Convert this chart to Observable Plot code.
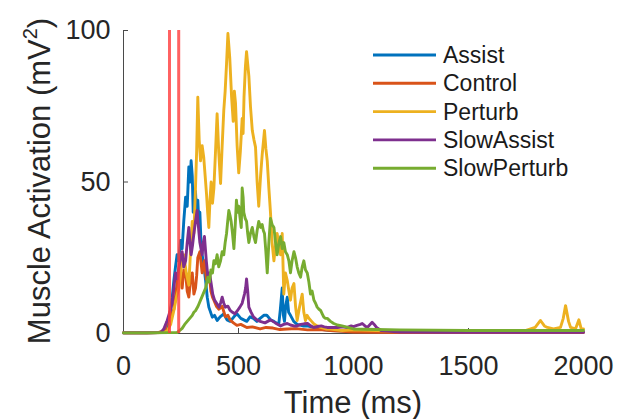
<!DOCTYPE html>
<html><head><meta charset="utf-8">
<script src="https://cdn.jsdelivr.net/npm/d3@7"></script>
<script src="https://cdn.jsdelivr.net/npm/@observablehq/plot@0.6"></script>
<style>body{margin:0;background:#fff} svg{display:block}</style>
</head><body><div id="chart"></div>
<script>
const seriesNames = ["Assist", "Control", "Perturb", "SlowAssist", "SlowPerturb"];
const seriesColors = ["#0072BD", "#D95319", "#EDB120", "#7E2F8E", "#77AC30"];
const xTicks = [0, 500, 1000, 1500, 2000];
const yTicks = [0, 50, 100];
const stimulusTimes = [200, 240];
const xLabel = "Time (ms)";
const yLabel = "Muscle Activation (mV²)";

const assistT = [0,100,150,175,190,204,212,219,226,233,240,248,255,262,270,277,284,290,294,299,303,308,313,318,323,328,332,337,342,350,357,364,371,386,396,407,420,436,450,464,480,493,510,536,550,565,580,594,610,623,640,654,665,675,682,690,695,700,705,712,718,726,740,755,780,799,850,900,1000,1200,1500,1800,2000];
const assistV = [0.2,0.2,0.3,0.5,2,7.6,12,17.5,22,26,24,30.7,28,37,45,42,55,50,57,52,40,46,47,38,44,36,40,30,26,22,17.5,12,8.7,5.4,6,4.3,5.5,6.5,4.5,4,5.5,6.5,5,4,5.5,5,4,5,6,6,4.5,4,3.5,3,8,15,6,4,9,12,7,6,4,3,2.5,2.5,1.5,1,0.7,0.5,0.5,0.4,0.4];

const controlT = [0,100,150,180,190,205,219,233,245,255,262,270,277,284,292,299,306,313,318,323,332,342,352,360,367,374,380,387,393,404,415,429,443,454,464,478,493,510,536,560,594,620,650,680,712,750,800,850,900,1000,1200,1500,2000];
const controlV = [0.2,0.2,0.3,1,4,6,8,16.5,23,15,21,20,14,12,18,20,13,15,19,25,27,20,24,18,17,19,14,12,11,9,8,9,5.5,6,4.4,3.5,2.7,3,2,2.2,1.5,2,1.8,1.3,1.5,1.6,1.2,1.3,1,0.5,0.3,0.3,0.3];

const perturbT = [0,100,170,190,205,219,230,241,252,262,273,284,292,299,306,313,318,323,329,335,342,349,355,361,366,371,376,381,387,393,400,407,414,422,429,436,442,448,454,458,462,470,477,482,487,494,501,508,516,520,524,530,535,540,545,552,560,567,574,581,588,596,603,608,613,619,625,632,639,646,654,661,668,676,683,690,697,704,712,719,726,733,741,748,755,766,777,784,791,798,806,818,830,843,857,880,900,950,1000,1100,1200,1400,1600,1700,1750,1790,1813,1830,1843,1870,1900,1912,1922,1935,1944,1965,1980,1990,2000];
const perturbV = [0.2,0.2,0.3,0.8,3,7.6,12,15,22,26,20,16,28,37,33,48,60,78,64,57,62,58,52,46,40,35,44,50,43,48,60,72.5,60,49.5,62,73.6,80,89,99,95,91,78,70,80,76,62,53,60,71,66,78,88,93,89,85,75,67,64,61.5,50,42,52,59,63,67,61,57,48,40,30,24,29,33,29,26,33,13,20,17.5,14,11,15,16.5,9,4.3,9,13,7,4.3,6,5,4,3,2.5,2,1.5,1.5,1,1.2,1,0.8,0.8,0.8,1,1,2,4.3,2.5,2,1.5,2,5,9.2,4,2,1.5,4.5,1.5,1.5];

const slowAssistT = [0,100,162,175,190,201,212,219,226,234,241,248,255,262,270,277,284,289,294,300,306,313,320,326,332,337,342,347,352,360,367,374,381,388,396,405,415,422,429,436,443,454,464,474,484,495,506,516,526,531,535,540,545,555,565,580,594,615,639,660,683,697,712,726,740,755,770,785,800,814,828,845,860,873,886,900,930,950,973,990,1000,1015,1030,1038,1050,1060,1070,1081,1090,1100,1120,1150,1200,1400,1600,1800,2000];
const slowAssistV = [0.2,0.2,0.3,1.5,4.3,7,10,15,20,18,22,25,27,22,24,30,35,30,26,29,33,37,40.6,35,30,28,26,30,32,24,18.6,20,16.5,13,11,10,8.7,10,12,10,8.7,9,7.6,7,6.5,7.5,8.7,10,13,15,18,14,8.7,7,5.5,4.5,4,3.5,4.5,3.5,2.5,3,3.3,2.8,2.5,2.5,3,3.2,3.3,2.5,2,2.3,2.5,2.2,2,2,2,2.2,2,2.5,2.3,2.7,3,3.3,2.5,2,2.8,3.7,3,2,1,0.8,0.5,0.4,0.4,0.4,0.4];

const slowPerturbT = [0,100,200,233,255,266,277,288,299,306,313,324,335,346,357,367,374,380,387,393,400,407,414,422,429,436,442,448,453,458,463,468,474,480,486,491,496,501,507,512,516,520,523,529,535,540,545,552,560,567,574,581,588,596,603,608,613,619,625,632,639,646,654,661,668,676,683,690,697,704,712,719,726,733,741,748,755,762,770,777,784,791,799,806,813,820,828,835,842,850,857,864,871,878,886,900,914,930,950,975,1000,1100,1200,1500,1800,2000];
const slowPerturbV = [0.2,0.2,0.3,0.3,1.7,3,4,5,6,7,7.5,9,11,13,15,18.6,17,21,20,24,23,26,22,24,27,26,30,33,37,40.6,39,37,33,28,36,44,40,42,38,35,48,45,40,38,37,33,30,33,35,32,30,34,37,35,36,34,33,27,20,30,38,36,35,30,26,30,32,28,30,27,26,24,20,24,27,25,22,20,18.6,22,24,21,20,17,13,14,11,10,8.7,8,7.6,6.5,5.4,5,5,4,3.3,2.8,2.5,2,1.5,1.3,1.2,1,1,1];

const rows = [];
function add(name, T, V) { T.forEach((t, i) => rows.push({series: name, t, v: V[i]})); }
add("Assist", assistT, assistV);
add("Control", controlT, controlV);
add("Perturb", perturbT, perturbV);
add("SlowAssist", slowAssistT, slowAssistV);
add("SlowPerturb", slowPerturbT, slowPerturbV);

const W = 626, H = 419, mL = 123, mR = 43, mT = 30, mB = 86;
const plot = Plot.plot({
  width: W, height: H, marginLeft: mL, marginRight: mR, marginTop: mT, marginBottom: mB,
  style: {fontFamily: "'Liberation Sans', Arial, Helvetica, sans-serif", color: "#262626", background: "#fff"},
  x: {domain: [0, 2000]},
  y: {domain: [0, 100]},
  color: {domain: seriesNames, range: seriesColors},
  marks: [
    Plot.ruleX([0], {stroke: "#4a4a4a", strokeWidth: 1}),
    Plot.ruleY([0], {stroke: "#4a4a4a", strokeWidth: 1}),
    Plot.axisX({ticks: xTicks, tickFormat: d => String(d), tickSize: -5, tickPadding: 27, fontSize: 27, label: null, stroke: "#4a4a4a"}),
    Plot.axisY({ticks: yTicks, tickFormat: d => String(d), tickSize: -5, tickPadding: 18, fontSize: 27, label: null, stroke: "#4a4a4a"}),
    Plot.line(rows, {x: "t", y: "v", z: "series", stroke: "series", strokeWidth: 2.9, strokeLinejoin: "round"}),
    Plot.ruleX(stimulusTimes, {stroke: "#ff3b3b", strokeWidth: 3, strokeOpacity: 0.8})
  ]
});
document.getElementById("chart").appendChild(plot);

const svg = d3.select(plot);
// Axis titles
svg.append("text").attr("x", 353).attr("y", 413).attr("text-anchor", "middle")
  .attr("font-size", 31).attr("fill", "#262626").text(xLabel);
const yt = svg.append("text").attr("transform", "translate(50,181) rotate(-90)").attr("text-anchor", "middle")
  .attr("font-size", 31).attr("fill", "#262626");
const parts = yLabel.split("²");
yt.append("tspan").text(parts[0]);
yt.append("tspan").attr("font-size", 20).attr("dy", -13).text("2");
yt.append("tspan").attr("dy", 13).text(parts[1]);

// Legend
const lg = svg.append("g").attr("text-anchor", "start");
seriesNames.forEach((name, i) => {
  const y = 55 + i * 28.3;
  lg.append("line").attr("x1", 373).attr("x2", 436).attr("y1", y).attr("y2", y)
    .attr("stroke", seriesColors[i]).attr("stroke-width", 2.9);
  lg.append("text").attr("x", 443).attr("y", y).attr("dy", "0.35em").attr("text-anchor", "start")
    .attr("font-size", 23).attr("fill", "#1a1a1a").text(name);
});
</script>
</body></html>
